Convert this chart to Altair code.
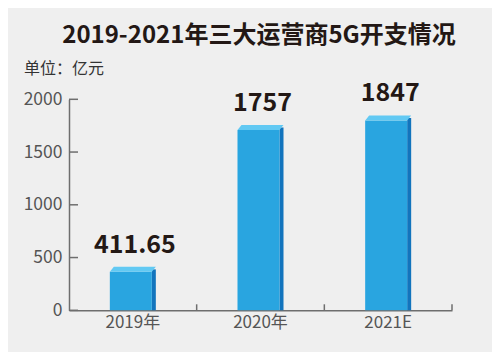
import altair as alt
import pandas as pd

categories = ["2019年", "2020年", "2021E"]
values = [411.65, 1757, 1847]
labels = ["411.65", "1757", "1847"]
y_ticks = [0, 500, 1000, 1500, 2000]

title_text = "2019-2021年三大运营商5G开支情况"
unit_text = "单位：亿元"

df = pd.DataFrame({"year": categories, "value": values, "label": labels})
ticks_df = pd.DataFrame({"t": y_ticks})

W, H = 383, 211
FONT = "Noto Sans CJK SC"
AXIS_COLOR = "#6e6e6e"
TEXT_DARK = "#231815"
LABEL_COLOR = "#555555"

FRONT = "#29a5e0"
TOP = "#62c9f3"
SIDE = "#1274bd"

x_axis = alt.Axis(title=None, labelAngle=0, ticks=False, domainColor=AXIS_COLOR,
                  domainWidth=1.5, labelFont=FONT, labelFontSize=17,
                  labelColor=LABEL_COLOR, labelPadding=4)
x_scale = alt.Scale(paddingInner=0, paddingOuter=0)
y_scale = alt.Scale(domain=[0, 2000])


def y_axis():
    return alt.Axis(title=None, values=y_ticks, format="d", ticks=False, grid=False,
                    domainColor=AXIS_COLOR, domainWidth=1.5, labelFont=FONT,
                    labelFontSize=17.5, labelColor=LABEL_COLOR, labelPadding=7)


X = alt.X("year:N", sort=categories, scale=x_scale, axis=x_axis)
Y = alt.Y("value:Q", scale=y_scale, axis=y_axis())

base = alt.Chart(df)

side = base.mark_bar(size=4, xOffset=21, yOffset=2.5, color=SIDE).encode(
    x=X, y=Y, y2=alt.datum(0))

front = base.mark_bar(size=42, xOffset=-2, yOffset=5, color=FRONT).encode(
    x=X, y=Y, y2=alt.datum(0))

top_shape = "M-1,0.1087L0.826,0.1087L1,-0.1087L-0.826,-0.1087Z"
top = base.mark_point(shape=top_shape, size=46 * 46, filled=True, color=TOP,
                      opacity=1, strokeWidth=0, yOffset=2.5).encode(x=X, y=Y)

value_text = base.mark_text(font=FONT, fontSize=25, fontWeight="bold",
                            color=TEXT_DARK, dx=2, dy=-14,
                            baseline="alphabetic").encode(
    x=X, y=Y, text="label:N")

x_ticks = base.mark_rule(color=AXIS_COLOR, strokeWidth=1.5, xOffset=W / 6).encode(
    x=X, y=alt.value(H - 6), y2=alt.value(H))

y_tick_rules = alt.Chart(ticks_df).mark_rule(color=AXIS_COLOR, strokeWidth=1.5).encode(
    y=alt.Y("t:Q", scale=y_scale, axis=y_axis()),
    x=alt.value(0), x2=alt.value(9))

title = alt.Chart(pd.DataFrame({"t": [title_text]})).mark_text(
    font=FONT, fontSize=24, fontWeight="bold", color=TEXT_DARK,
    align="center", baseline="alphabetic").encode(
    x=alt.value(190), y=alt.value(-56), text="t:N")

unit = alt.Chart(pd.DataFrame({"t": [unit_text]})).mark_text(
    font=FONT, fontSize=16, color="#333333",
    align="left", baseline="alphabetic").encode(
    x=alt.value(-45), y=alt.value(-25), text="t:N")

chart = alt.layer(side, front, top, value_text, x_ticks, y_tick_rules, title, unit).properties(
    width=W, height=H,
    autosize=alt.AutoSizeParams(type="none"),
    padding={"left": 61, "top": 91.3, "right": 40, "bottom": 41.7},
    background="#efefef",
).configure_view(stroke=None)

chart.save("out.html", embed_options={"renderer": "svg", "actions": False})
